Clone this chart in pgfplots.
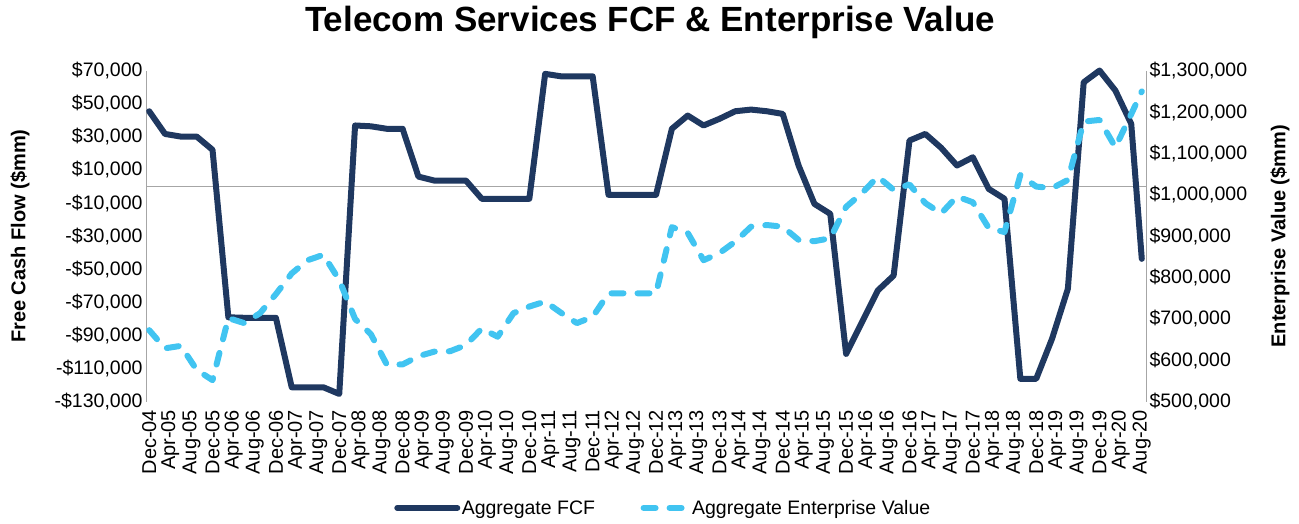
\documentclass[border=0pt]{standalone}
\usepackage{pgfplots}
\pgfplotsset{compat=1.18}
\usepackage{fontspec}
\setmainfont{Liberation Sans}

\definecolor{navy}{HTML}{1F3860}
\definecolor{sky}{HTML}{41C4F1}
\definecolor{axgray}{HTML}{A6A6A6}

% x = months after Dec-04 (quarterly points, last one Aug-20)
\pgfplotstableread{
m fcf
0 45500
3 31800
6 30200
9 30200
12 22200
15 -79000
18 -79300
21 -79300
24 -79300
27 -121300
30 -121300
33 -121300
36 -125300
39 36900
42 36400
45 34900
48 34900
51 6000
54 3600
57 3600
60 3600
63 -7400
66 -7400
69 -7400
72 -7400
75 68100
78 66600
81 66600
84 66600
87 -5000
90 -5000
93 -5000
96 -5000
99 34900
102 42900
105 36900
108 40900
111 45500
114 46500
117 45500
120 43900
123 12700
126 -10500
129 -16500
132 -101100
135 -82000
138 -62800
141 -53800
144 27800
147 31800
150 23400
153 12700
156 17700
159 -1400
162 -7400
165 -116200
168 -116200
171 -92000
174 -61800
177 63000
180 70100
183 58000
186 37900
188 -43700
}\fcftable

\pgfplotstableread{
m ev
0 673000
3 629000
6 635000
9 577000
12 552000
15 702000
18 690000
21 714000
24 760000
27 810000
30 842000
33 855000
36 794000
39 700000
42 663000
45 590000
48 590000
51 610000
54 621000
57 622000
60 637000
63 677000
66 657000
69 714000
72 730000
75 742000
78 715000
81 690000
84 705000
87 762000
90 762000
93 762000
96 762000
99 922000
102 908000
105 842000
108 859000
111 887000
114 923000
117 927000
120 923000
123 891000
126 888000
129 895000
132 971000
135 1004000
138 1044000
141 1012000
144 1025000
147 980000
150 955000
153 996000
156 982000
159 920000
162 910000
165 1048000
168 1020000
171 1016000
174 1036000
177 1177000
180 1181000
183 1115000
186 1195000
188 1250000
}\evtable

\pgfplotsset{
  fcfline/.style={navy, line width=6pt, line join=round, line cap=round},
  evline/.style={sky, line width=6pt, line join=round, line cap=round, dash pattern=on 12pt off 14pt},
  fcfimg/.style={legend image code/.code={\draw[navy, line width=6pt, line cap=round] (0pt,0pt) -- (60pt,0pt);}},
  evimg/.style={legend image code/.code={\draw[sky, line width=6pt, line cap=round, dash pattern=on 12pt off 14pt] (0pt,0pt) -- (44pt,0pt);}},
  base/.style={
    scale only axis, width=1000pt, height=331pt,
    at={(146pt,121.3pt)}, anchor=south west,
    xmin=-0.6, xmax=188.8, clip=false,
    tick style={draw=none},
    scaled y ticks=false,
    every tick label/.append style={font=\fontsize{19.5}{22}\selectfont},
  },
}

\begin{document}
\begin{tikzpicture}
\useasboundingbox (0,0) rectangle (1299pt,523pt);

\begin{axis}[base,
  axis y line*=left, axis x line*=bottom,
  x axis line style={draw=none},
  y axis line style={axgray, line width=1pt},
  ymin=-130000, ymax=70000,
  ytick={-130000,-110000,-90000,-70000,-50000,-30000,-10000,10000,30000,50000,70000},
  yticklabels={{-\$130,000},{-\$110,000},{-\$90,000},{-\$70,000},{-\$50,000},{-\$30,000},{-\$10,000},{\$10,000},{\$30,000},{\$50,000},{\$70,000}},
  extra y ticks={0}, extra y tick labels={},
  extra y tick style={grid=major, major grid style={axgray, line width=1pt}},
  xtick={0,4,...,188},
  xticklabels={Dec-04,Apr-05,Aug-05,Dec-05,Apr-06,Aug-06,Dec-06,Apr-07,Aug-07,Dec-07,Apr-08,Aug-08,Dec-08,Apr-09,Aug-09,Dec-09,Apr-10,Aug-10,Dec-10,Apr-11,Aug-11,Dec-11,Apr-12,Aug-12,Dec-12,Apr-13,Aug-13,Dec-13,Apr-14,Aug-14,Dec-14,Apr-15,Aug-15,Dec-15,Apr-16,Aug-16,Dec-16,Apr-17,Aug-17,Dec-17,Apr-18,Aug-18,Dec-18,Apr-19,Aug-19,Dec-19,Apr-20,Aug-20},
  xticklabel style={rotate=90, anchor=east, inner xsep=8pt, font=\fontsize{20}{22}\selectfont},
  ylabel={Free Cash Flow (\$mm)},
  ylabel style={at={(axis description cs:-0.126,0.5)}, anchor=center, font=\bfseries\fontsize{20}{24}\selectfont},
]
\addplot[fcfline] table[x=m, y=fcf] {\fcftable};
\end{axis}

\begin{axis}[base,
  axis y line*=right, axis x line=none,
  y axis line style={axgray, line width=1pt},
  ymin=500000, ymax=1300000,
  ytick={500000,600000,700000,800000,900000,1000000,1100000,1200000,1300000},
  yticklabels={{\$500,000},{\$600,000},{\$700,000},{\$800,000},{\$900,000},{\$1,000,000},{\$1,100,000},{\$1,200,000},{\$1,300,000}},
  ylabel={Enterprise Value (\$mm)},
  ylabel style={at={(axis description cs:1.134,0.5)}, anchor=center, font=\bfseries\fontsize{20}{24}\selectfont},
  legend style={at={(axis description cs:0.517,-0.321)}, anchor=center,
    draw=none, fill=none, legend columns=2,
    font=\fontsize{19.5}{22}\selectfont,
    nodes={inner xsep=1.5pt},
    /tikz/every even column/.append style={column sep=44pt}},
]
\addlegendimage{fcfimg}
\addlegendentry{Aggregate FCF}
\addplot[evline, evimg] table[x=m, y=ev] {\evtable};
\addlegendentry{Aggregate Enterprise Value}
\end{axis}

\node[font=\bfseries\fontsize{35}{40}\selectfont] at (650pt,501pt) {Telecom Services FCF \& Enterprise Value};
\end{tikzpicture}
\end{document}
